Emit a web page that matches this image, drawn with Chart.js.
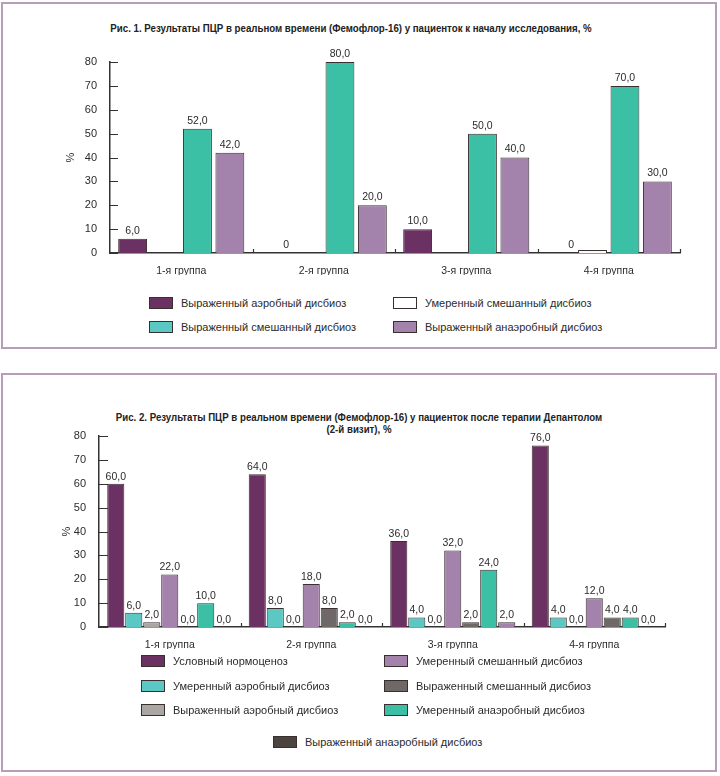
<!DOCTYPE html>
<html lang="ru">
<head>
<meta charset="utf-8">
<title>Фемофлор-16</title>
<script src="https://cdn.jsdelivr.net/npm/chart.js"></script>
<style>
    body { margin: 0; width: 720px; height: 776px; position: relative; background: #fff; font-family: Arial, "Liberation Sans", sans-serif; color: #2b2b2b; }
    .frame { position: absolute; border: 2px solid #b99cbc; box-sizing: border-box; }
    .title { position: absolute; text-align: center; font-family: Arial, "Liberation Sans", sans-serif; font-weight: bold; font-size: 11px; line-height: 12px; color: #222; transform: scaleX(0.88); transform-origin: center top; }
    .chart { position: absolute; }
    .legend { position: absolute; display: grid; font-size: 11px; }
    .item { display: flex; align-items: center; }
    .swatch { width: 24px; height: 12px; box-sizing: border-box; border: 1px solid #3a2f2f; margin-right: 8px; flex: none; }
</style>
</head>
<body>

<div class="frame" style="left:1px; top:2px; width:716px; height:347px"></div>
<div class="frame" style="left:1px; top:373px; width:716px; height:399px"></div>

<div class="title" style="left:0; top:22px; width:702px">Рис. 1. Результаты ПЦР в реальном времени (Фемофлор-16) у пациенток к началу исследования, %</div>
<div class="chart" style="left:0; top:40px; width:720px; height:240px"><canvas id="fig1"></canvas></div>
<div class="legend" id="legend1" style="left:149px; top:291px; grid-template-columns: 244px 244px; grid-auto-rows: 24px"></div>

<div class="title" style="left:0; top:411px; width:718px">Рис. 2. Результаты ПЦР в реальном времени (Фемофлор-16) у пациенток после терапии Депантолом<br>(2-й визит), %</div>
<div class="chart" style="left:0; top:410px; width:720px; height:240px"><canvas id="fig2"></canvas></div>
<div class="legend" id="legend2" style="left:141px; top:649px; grid-template-columns: 243px 243px; grid-template-rows: repeat(3, 24.5px); grid-auto-flow: column"></div>
<div class="legend" id="legend2b" style="left:273px; top:730px; grid-auto-rows: 24px"></div>

<script>
const groups = ['1-я группа', '2-я группа', '3-я группа', '4-я группа']
const yTicks = [0, 10, 20, 30, 40, 50, 60, 70, 80]

// Рис. 1 - к началу исследования
const fig1Series = ['Выраженный аэробный дисбиоз', 'Умеренный смешанный дисбиоз', 'Выраженный смешанный дисбиоз', 'Выраженный анаэробный дисбиоз']
const fig1SevereAerobic = [6, 0, 10, 0]
const fig1ModerateMixed = [null, null, null, 0]
const fig1SevereMixed = [52, 80, 50, 70]
const fig1SevereAnaerobic = [42, 20, 40, 30]
const fig1Colors = ['#6a3162', '#fbfaf8', '#3bbfa5', '#a382ab']
const fig1LegendColors = ['#6a3162', '#ffffff', '#5cc8c4', '#a382ab']

// Рис. 2 - после терапии (2-й визит)
const fig2Series = ['Условный нормоценоз', 'Умеренный аэробный дисбиоз', 'Выраженный аэробный дисбиоз', 'Умеренный смешанный дисбиоз', 'Выраженный смешанный дисбиоз', 'Умеренный анаэробный дисбиоз', 'Выраженный анаэробный дисбиоз']
const fig2Normocenosis = [60, 64, 36, 76]
const fig2ModerateAerobic = [6, 8, 4, 4]
const fig2SevereAerobic = [2, 0, 0, 0]
const fig2ModerateMixed = [22, 18, 32, 12]
const fig2SevereMixed = [0, 8, 2, 4]
const fig2ModerateAnaerobic = [10, 2, 24, 4]
const fig2SevereAnaerobic = [0, 0, 2, 0]
const fig2Colors = ['#6a3162', '#5cc8c4', '#a9a6a4', '#a382ab', '#6e6966', '#3bbfa5', '#4b443f']
// в оригинале столбик 3-й группы этой серии окрашен как умеренный смешанный
const fig2SevereAnaerobicBars = ['#4b443f', '#4b443f', '#a382ab', '#4b443f']

const fmt = v => v.toFixed(1).replace('.', ',')

// подписи значений над столбиками
const valueLabels = {
    id: 'valueLabels',
    afterDatasetsDraw(chart, args, opts) {
        const ctx = chart.ctx
        ctx.save()
        ctx.font = opts.font
        ctx.fillStyle = '#2b2b2b'
        ctx.textAlign = 'center'
        ctx.textBaseline = 'middle'
        chart.data.datasets.forEach((ds, di) => {
            chart.getDatasetMeta(di).data.forEach((bar, i) => {
                const v = ds.data[i]
                const text = opts.format(v, di)
                if (text === null) return
                const dx = v === 0 ? opts.zeroShift : 0
                ctx.fillText(text, bar.x + dx, bar.y - opts.gap)
            })
        })
        ctx.restore()
    }
}

// короткие засечки внутрь области графика
const axisMarks = {
    id: 'axisMarks',
    afterDraw(chart, args, opts) {
        const { ctx, chartArea, scales: { x, y } } = chart
        ctx.save()
        ctx.strokeStyle = '#333'
        ctx.lineWidth = 1.2
        ctx.beginPath()
        y.ticks.forEach((t, i) => {
            const py = Math.round(y.getPixelForTick(i)) + 0.5
            ctx.moveTo(chartArea.left, py)
            ctx.lineTo(chartArea.left + opts.yTick, py)
        })
        const n = x.ticks.length
        for (let i = 1; i <= n; i++) {
            const px = Math.round(x.left + x.width / n * i) + 0.5
            ctx.moveTo(px, chartArea.bottom)
            ctx.lineTo(px, chartArea.bottom - opts.xTick)
        }
        ctx.stroke()
        ctx.restore()
    }
}

Chart.defaults.font.family = 'Arial, "Liberation Sans", sans-serif'
Chart.defaults.color = '#2b2b2b'

function scales(yWidth) {
    return {
        x: {
            grid: { display: false },
            border: { display: true, color: '#333', width: 1.5 },
            ticks: { font: { size: 10.5 }, padding: 4, color: '#2b2b2b' },
            afterFit: s => { s.height = 22 }
        },
        y: {
            min: 0,
            max: 80,
            afterBuildTicks: s => { s.ticks = yTicks.map(v => ({ value: v })) },
            grid: { display: false },
            border: { display: true, color: '#333', width: 1.5 },
            ticks: { font: { size: 11 }, padding: 5, color: '#2b2b2b' },
            title: { display: true, text: '%', font: { size: 11 }, color: '#2b2b2b' },
            afterFit: s => { s.width = yWidth }
        }
    }
}

function bars(label, data, color, extra) {
    return Object.assign({
        label,
        data,
        backgroundColor: color,
        borderColor: '#3b2f2f',
        borderWidth: 1
    }, extra)
}

function legend(el, names, colors) {
    names.forEach((name, i) => {
        const item = document.createElement('div')
        item.className = 'item'
        const sw = document.createElement('span')
        sw.className = 'swatch'
        sw.style.background = colors[i]
        item.appendChild(sw)
        item.appendChild(document.createTextNode(name))
        el.appendChild(item)
    })
}

const shape1 = { categoryPercentage: 0.91, barPercentage: 0.89 }
new Chart(document.getElementById('fig1'), {
    type: 'bar',
    data: {
        labels: groups,
        datasets: [
            bars(fig1Series[0], fig1SevereAerobic, fig1Colors[0], shape1),
            bars(fig1Series[1], fig1ModerateMixed, fig1Colors[1], Object.assign({ minBarLength: 3 }, shape1)),
            bars(fig1Series[2], fig1SevereMixed, fig1Colors[2], shape1),
            bars(fig1Series[3], fig1SevereAnaerobic, fig1Colors[3], shape1)
        ]
    },
    options: {
        responsive: true,
        maintainAspectRatio: false,
        animation: false,
        layout: { padding: { left: 60, right: 40, top: 22, bottom: 5 } },
        plugins: {
            legend: { display: false },
            tooltip: { enabled: false },
            valueLabels: {
                font: '10.5px Arial, "Liberation Sans", sans-serif',
                gap: 8,
                zeroShift: 11,
                format: (v, di) => v === null ? null : v === 0 ? (di === 0 ? '0' : null) : fmt(v)
            },
            axisMarks: { yTick: 8, xTick: 4 }
        },
        scales: scales(50)
    },
    plugins: [valueLabels, axisMarks]
})
legend(document.getElementById('legend1'), fig1Series, fig1LegendColors)

const shape2 = { categoryPercentage: 0.89, barPercentage: 0.95 }
const fig2Data = [fig2Normocenosis, fig2ModerateAerobic, fig2SevereAerobic, fig2ModerateMixed, fig2SevereMixed, fig2ModerateAnaerobic, fig2SevereAnaerobic]
new Chart(document.getElementById('fig2'), {
    type: 'bar',
    data: {
        labels: groups,
        datasets: fig2Data.map((d, i) => bars(fig2Series[i], d, i === 6 ? fig2SevereAnaerobicBars : fig2Colors[i], shape2))
    },
    options: {
        responsive: true,
        maintainAspectRatio: false,
        animation: false,
        layout: { padding: { left: 56, right: 55, top: 26, bottom: 1 } },
        plugins: {
            legend: { display: false },
            tooltip: { enabled: false },
            valueLabels: {
                font: '10.5px Arial, "Liberation Sans", sans-serif',
                gap: 7,
                zeroShift: 0,
                format: v => v === null ? null : fmt(v)
            },
            axisMarks: { yTick: 9, xTick: 4 }
        },
        scales: scales(43)
    },
    plugins: [valueLabels, axisMarks]
})
legend(document.getElementById('legend2'), fig2Series.slice(0, 6), fig2Colors.slice(0, 6))
legend(document.getElementById('legend2b'), fig2Series.slice(6), fig2Colors.slice(6))
</script>
</body>
</html>
